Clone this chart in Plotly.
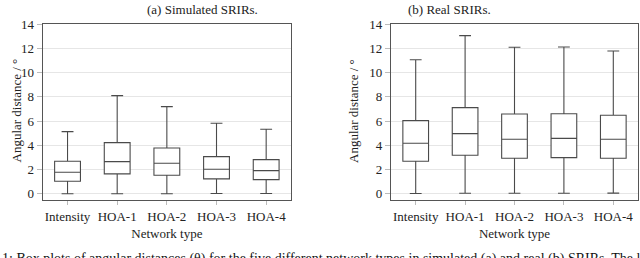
import plotly.graph_objects as go

categories = ["Intensity", "HOA-1", "HOA-2", "HOA-3", "HOA-4"]

# (a) Simulated SRIRs
sim_lower = [0.02, 0.02, 0.02, 0.03, 0.03]
sim_q1 = [1.05, 1.65, 1.54, 1.24, 1.18]
sim_median = [1.79, 2.66, 2.53, 2.03, 1.92]
sim_q3 = [2.69, 4.23, 3.79, 3.07, 2.83]
sim_upper = [5.13, 8.10, 7.19, 5.82, 5.33]

# (b) Real SRIRs
real_lower = [0.03, 0.05, 0.05, 0.05, 0.07]
real_q1 = [2.69, 3.19, 2.94, 2.99, 2.94]
real_median = [4.17, 4.97, 4.50, 4.58, 4.50]
real_q3 = [6.04, 7.11, 6.59, 6.61, 6.48]
real_upper = [11.06, 13.04, 12.08, 12.10, 11.78]

y_ticks = [0, 2, 4, 6, 8, 10, 12, 14]

FONT = "Liberation Serif, Times New Roman, serif"
LINE = "#4a4a4a"
FRAME = "#555555"
GRID = "#e6e6e6"

fig = go.Figure()

def add_box(lower, q1, med, q3, upper, xa, ya):
    fig.add_trace(go.Box(
        x=categories, q1=q1, median=med, q3=q3,
        lowerfence=lower, upperfence=upper,
        xaxis=xa, yaxis=ya,
        width=0.52, whiskerwidth=0.46,
        fillcolor="white",
        line=dict(color=LINE, width=1.1),
        boxpoints=False, showlegend=False, hoverinfo="skip",
    ))

add_box(sim_lower, sim_q1, sim_median, sim_q3, sim_upper, "x", "y")
add_box(real_lower, real_q1, real_median, real_q3, real_upper, "x2", "y2")

H = 258.0
W = 640.0
yd = [(H - 200) / H, (H - 24) / H]

axis_common_x = dict(
    type="category", range=[-0.5, 4.5],
    showline=True, mirror=True, linecolor=FRAME, linewidth=1.3,
    showgrid=False, zeroline=False,
    ticks="outside", ticklen=4, tickcolor="#bbbbbb", tickwidth=1,
    tickfont=dict(family=FONT, size=13, color="#222222"),
    title=dict(text="Network type", font=dict(family=FONT, size=13, color="#222222"), standoff=6),
    automargin=False,
)
axis_common_y = dict(
    range=[-0.5, 14], tickvals=y_ticks,
    showline=True, mirror=True, linecolor=FRAME, linewidth=1.3,
    showgrid=True, gridcolor=GRID, gridwidth=1, zeroline=False,
    ticks="outside", ticklen=5, tickcolor="#bbbbbb", tickwidth=1,
    tickfont=dict(family=FONT, size=13, color="#222222"),
    automargin=False,
)

fig.update_layout(
    width=640, height=258,
    margin=dict(l=0, r=0, t=0, b=0),
    paper_bgcolor="white", plot_bgcolor="white",
    xaxis=dict(domain=[42.7 / W, 291 / W], anchor="y", **axis_common_x),
    yaxis=dict(domain=yd, anchor="x", **axis_common_y),
    xaxis2=dict(domain=[391 / W, 638 / W], anchor="y2", **axis_common_x),
    yaxis2=dict(domain=yd, anchor="x2", **axis_common_y),
    annotations=[
        dict(text="(a) Simulated SRIRs.", x=145 / W, y=1.0, xref="paper", yref="paper",
             yanchor="top", showarrow=False, font=dict(family=FONT, size=13, color="#222222")),
        dict(text="(b) Real SRIRs.", x=493 / W, y=1.0, xref="paper", yref="paper",
             yanchor="top", showarrow=False, font=dict(family=FONT, size=13, color="#222222")),
        dict(text="Angular distance / °", x=6 / W, y=(H - 111) / H, xref="paper", yref="paper",
             textangle=-90, showarrow=False, font=dict(family=FONT, size=13, color="#222222")),
        dict(text="Angular distance / °", x=353 / W, y=(H - 111) / H, xref="paper", yref="paper",
             textangle=-90, showarrow=False, font=dict(family=FONT, size=13, color="#222222")),
        dict(text="1: Box plots of angular distances (θ) for the five different network types in simulated (a) and real (b) SRIRs. The l",
             x=0, y=(H - 249) / H, xref="paper", yref="paper", xanchor="left", yanchor="top",
             showarrow=False, font=dict(family=FONT, size=14, color="#111111")),
    ],
)

fig.write_html("out.html", config={"displayModeBar": False},
               post_script="document.body.style.margin='0';document.body.style.overflow='hidden';")
